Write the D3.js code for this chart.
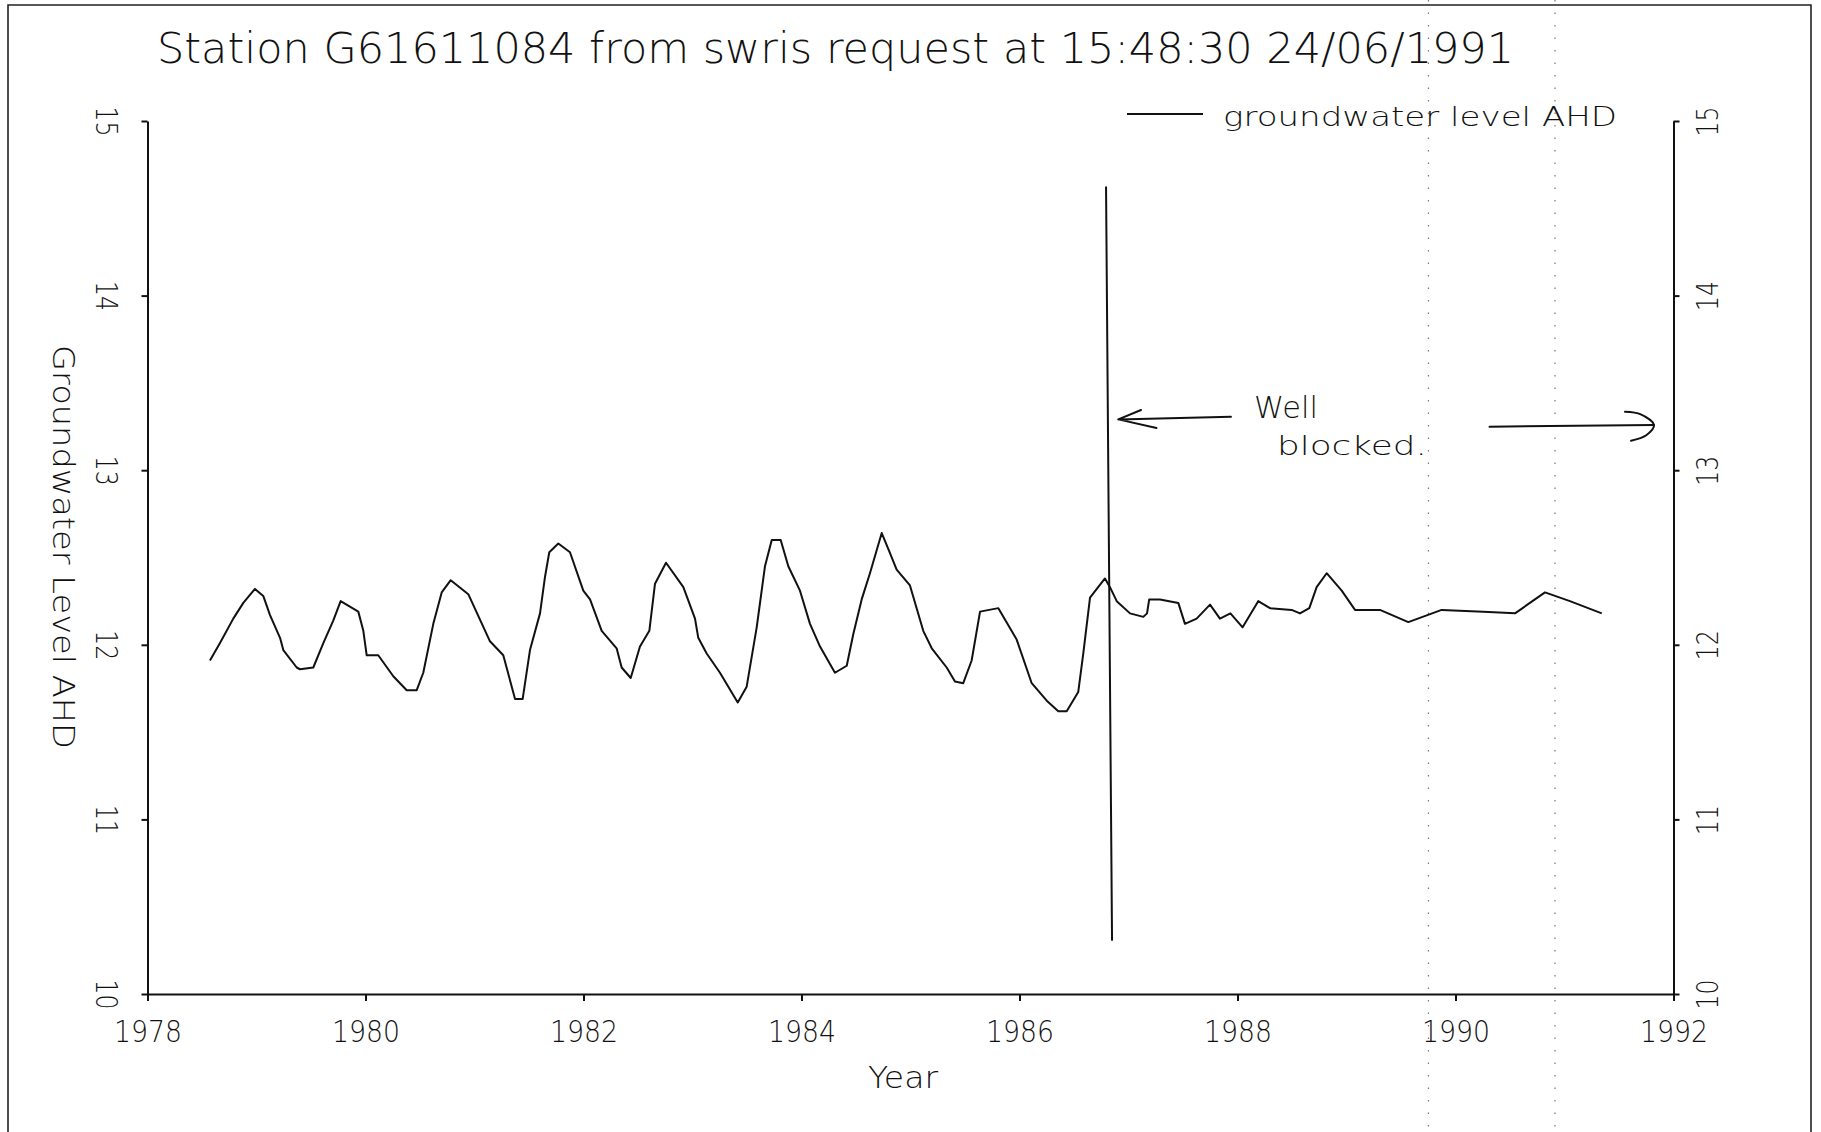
<!DOCTYPE html>
<html>
<head>
<meta charset="utf-8">
<script src="https://cdn.jsdelivr.net/npm/d3@7"></script>
<style>
body { margin: 0; background: #fff; }
text { font-family: "DejaVu Sans", "Liberation Sans", sans-serif; font-weight: 200; fill: #111; }
</style>
</head>
<body>
<svg id="viz" width="1821" height="1132"></svg>
<script>
// sample dates (decimal years) and groundwater level (m AHD)
var years = [1978.573, 1978.665, 1978.787, 1978.879, 1978.986, 1979.062, 1979.124, 1979.216, 1979.246, 1979.369,
  1979.399, 1979.521, 1979.613, 1979.705, 1979.772, 1979.934, 1979.980, 1980.011, 1980.117, 1980.255,
  1980.378, 1980.470, 1980.530, 1980.622, 1980.699, 1980.782, 1980.943, 1981.142, 1981.264, 1981.372,
  1981.442, 1981.509, 1981.601, 1981.647, 1981.686, 1981.769, 1981.876, 1981.998, 1982.060, 1982.167,
  1982.304, 1982.350, 1982.433, 1982.518, 1982.604, 1982.656, 1982.757, 1982.916, 1983.023, 1983.053,
  1983.130, 1983.252, 1983.415, 1983.497, 1983.589, 1983.665, 1983.727, 1983.809, 1983.879, 1983.986,
  1984.078, 1984.170, 1984.307, 1984.415, 1984.475, 1984.552, 1984.628, 1984.736, 1984.796, 1984.873,
  1984.995, 1985.117, 1985.195, 1985.332, 1985.408, 1985.484, 1985.561, 1985.638, 1985.806, 1985.974,
  1986.112, 1986.250, 1986.356, 1986.433, 1986.539, 1986.585, 1986.647, 1986.784, 1986.830, 1986.892,
  1987.014, 1987.136, 1987.170, 1987.190, 1987.289, 1987.457, 1987.518, 1987.625, 1987.748, 1987.839,
  1987.935, 1988.047, 1988.190, 1988.298, 1988.497, 1988.573, 1988.659, 1988.726, 1988.818, 1988.956,
  1989.078, 1989.307, 1989.567, 1989.873, 1990.255, 1990.546, 1990.821, 1991.050, 1991.342];
var levels = [11.91, 12.01, 12.15, 12.24, 12.32, 12.28, 12.17, 12.04, 11.97, 11.87,
  11.86, 11.87, 12.01, 12.14, 12.25, 12.19, 12.08, 11.94, 11.94, 11.82,
  11.74, 11.74, 11.84, 12.12, 12.30, 12.37, 12.29, 12.02, 11.94, 11.69,
  11.69, 11.97, 12.18, 12.39, 12.53, 12.58, 12.53, 12.31, 12.26, 12.08,
  11.98, 11.87, 11.81, 11.99, 12.08, 12.35, 12.47, 12.33, 12.15, 12.04,
  11.95, 11.84, 11.67, 11.76, 12.10, 12.45, 12.60, 12.60, 12.45, 12.31,
  12.12, 11.99, 11.84, 11.88, 12.06, 12.26, 12.41, 12.64, 12.55, 12.43,
  12.34, 12.08, 11.98, 11.87, 11.79, 11.78, 11.91, 12.19, 12.21, 12.03,
  11.78, 11.68, 11.62, 11.62, 11.73, 11.95, 12.27, 12.38, 12.33, 12.25,
  12.18, 12.16, 12.18, 12.26, 12.26, 12.24, 12.12, 12.15, 12.23, 12.15,
  12.18, 12.10, 12.25, 12.21, 12.20, 12.18, 12.21, 12.33, 12.41, 12.31,
  12.20, 12.20, 12.13, 12.20, 12.19, 12.18, 12.30, 12.25, 12.18];

var xTicks = [1978, 1980, 1982, 1984, 1986, 1988, 1990, 1992];
var yTicks = [10, 11, 12, 13, 14, 15];

// hand drawn "well blocked" marker
var blockedYears = [1986.794, 1986.849];
var blockedLevels = [14.62, 10.31];
var leftArrowYears = [1987.94, 1986.906, 1987.115, 1986.906, 1987.257];
var leftArrowLevels = [13.306, 13.291, 13.345, 13.291, 13.242];
var rightArrowYears = [1990.312, 1991.821];
var rightArrowLevels = [13.249, 13.259];
var rightHeadYears = [1991.555, 1991.70, 1991.821, 1991.75, 1991.61];
var rightHeadLevels = [13.335, 13.32, 13.259, 13.20, 13.169];
var noteWords = ["Well", "blocked."];
var noteYears = [1988.151, 1988.362];
var noteLevels = [13.299, 13.087];

// faint fold lines on the scanned sheet
var foldYears = [1989.752, 1990.913];

var svg = d3.select("#viz");
var W = 1821, H = 1132;

var x = d3.scaleLinear().domain([1978, 1992]).range([147.5, 1673.5]);
var y = d3.scaleLinear().domain([10, 15]).range([994, 121]);

// sheet border
svg.append("path")
  .attr("d", "M8," + H + "V5H1811V" + H)
  .attr("fill", "none").attr("stroke", "#222").attr("stroke-width", 1.6);

svg.selectAll(".fold")
  .data(foldYears)
  .enter().append("line")
  .attr("x1", d => x(d)).attr("x2", d => x(d))
  .attr("y1", 0).attr("y2", H)
  .attr("stroke", "#777").attr("stroke-width", 1.2)
  .attr("stroke-dasharray", "1.5,11");

// title
svg.append("text")
  .attr("x", 157).attr("y", 63)
  .attr("textLength", 1357).attr("lengthAdjust", "spacingAndGlyphs")
  .style("font-size", "43px")
  .text("Station G61611084 from swris request at 15:48:30 24/06/1991");

// x axis
var xAxis = svg.append("g")
  .attr("transform", "translate(0," + y(10) + ")")
  .call(d3.axisBottom(x).tickValues(xTicks).tickFormat(d3.format("d")).tickSize(7).tickSizeOuter(0));
xAxis.selectAll("text")
  .attr("y", 48).attr("dy", null)
  .attr("textLength", 68).attr("lengthAdjust", "spacingAndGlyphs")
  .style("font-size", "31px");

// left axis
var yAxisL = svg.append("g")
  .attr("transform", "translate(" + x(1978) + ",0)")
  .call(d3.axisLeft(y).tickValues(yTicks).tickFormat(d3.format("d")).tickSize(6).tickSizeOuter(0));
yAxisL.selectAll("text")
  .attr("x", null).attr("dy", null)
  .attr("text-anchor", "middle")
  .attr("transform", "translate(-52,0) rotate(90)")
  .attr("textLength", 30).attr("lengthAdjust", "spacingAndGlyphs")
  .style("font-size", "31px");

// right axis
var yAxisR = svg.append("g")
  .attr("transform", "translate(" + x(1992) + ",0)")
  .call(d3.axisRight(y).tickValues(yTicks).tickFormat(d3.format("d")).tickSize(6).tickSizeOuter(0));
yAxisR.selectAll("text")
  .attr("x", null).attr("dy", null)
  .attr("text-anchor", "middle")
  .attr("transform", "translate(44,0) rotate(-90)")
  .attr("textLength", 30).attr("lengthAdjust", "spacingAndGlyphs")
  .style("font-size", "31px");

svg.selectAll(".domain, .tick line").attr("stroke", "#111").attr("stroke-width", 2);

// axis titles
svg.append("text")
  .attr("x", 903).attr("y", 1088)
  .attr("text-anchor", "middle")
  .attr("textLength", 70).attr("lengthAdjust", "spacingAndGlyphs")
  .style("font-size", "30px")
  .text("Year");

svg.append("text")
  .attr("transform", "translate(53,547) rotate(90)")
  .attr("text-anchor", "middle")
  .attr("textLength", 404).attr("lengthAdjust", "spacingAndGlyphs")
  .style("font-size", "31px")
  .text("Groundwater Level AHD");

// legend
svg.append("line")
  .attr("x1", 1127).attr("x2", 1203).attr("y1", 114).attr("y2", 114)
  .attr("stroke", "#111").attr("stroke-width", 2);
svg.append("text")
  .attr("x", 1223).attr("y", 126)
  .attr("textLength", 394).attr("lengthAdjust", "spacingAndGlyphs")
  .style("font-size", "27px")
  .text("groundwater level AHD");

// data line
var line = d3.line().x(d => x(d[0])).y(d => y(d[1]));
svg.append("path")
  .datum(d3.zip(years, levels))
  .attr("d", line)
  .attr("fill", "none").attr("stroke", "#111").attr("stroke-width", 2)
  .attr("stroke-linejoin", "round");

// well blocked annotation
var hand = svg.append("g").attr("fill", "none").attr("stroke", "#111").attr("stroke-width", 2)
  .attr("stroke-linecap", "round").attr("stroke-linejoin", "round");
hand.append("path").datum(d3.zip(blockedYears, blockedLevels)).attr("d", line);
hand.append("path").datum(d3.zip(leftArrowYears, leftArrowLevels)).attr("d", line);
hand.append("path").datum(d3.zip(rightArrowYears, rightArrowLevels)).attr("d", line);
hand.append("path").datum(d3.zip(rightHeadYears, rightHeadLevels))
  .attr("d", d3.line().x(d => x(d[0])).y(d => y(d[1])).curve(d3.curveCatmullRom));

svg.selectAll(".note")
  .data(noteWords)
  .enter().append("text")
  .attr("x", (d, i) => x(noteYears[i]))
  .attr("y", (d, i) => y(noteLevels[i]))
  .style("font-size", (d, i) => i == 0 ? "30px" : "27px")
  .attr("textLength", (d, i) => i == 0 ? 64 : 150)
  .attr("lengthAdjust", "spacingAndGlyphs")
  .text(d => d);
</script>
</body>
</html>
